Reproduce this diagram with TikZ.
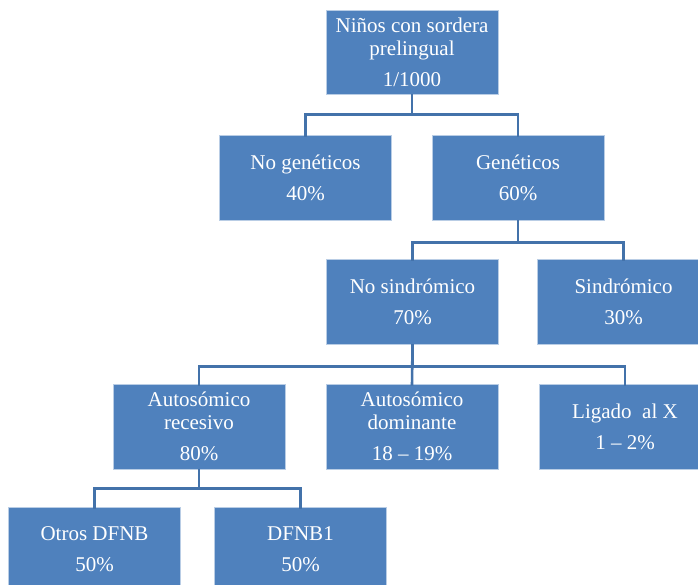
\documentclass[tikz,border=0pt]{standalone}
\usepackage{fontspec}
\setmainfont{Liberation Serif}
\definecolor{boxblue}{HTML}{4F81BD}
\definecolor{boxedge}{HTML}{B9CDE5}
\definecolor{linkblue}{HTML}{4372AA}
\begin{document}
\begin{tikzpicture}[x=1pt,y=-1pt,
  box/.style={rectangle, fill=boxblue, draw=boxedge, line width=0.8pt,
    minimum width=172pt, minimum height=85pt, inner sep=0pt, align=center,
    text=white, font=\fontsize{21}{23}\selectfont},
  conn/.style={draw=linkblue, line width=2.6pt}]
\useasboundingbox (0,0) rectangle (698,585);
\node[box, minimum height=84pt] (top) at (412,52) {Niños con sordera\\prelingual\\[8pt]1/1000};
\node[box] (nog) at (305.5,177.5) {No genéticos\\[8pt]40\%};
\node[box] (gen) at (518,177.5) {Genéticos\\[8pt]60\%};
\node[box] (nos) at (412.5,301.5) {No sindrómico\\[8pt]70\%};
\node[box] (sin) at (623.5,301.5) {Sindrómico\\[8pt]30\%};
\node[box] (rec) at (199,426.5) {Autosómico\\recesivo\\[8pt]80\%};
\node[box] (dom) at (412,426.5) {Autosómico\\dominante\\[8pt]18 – 19\%};
\node[box] (lig) at (625,426.5) {Ligado\ \ al X\\[8pt]1 – 2\%};
\node[box] (otr) at (94.5,549.5) {Otros DFNB\\[8pt]50\%};
\node[box] (dfn) at (300.5,549.5) {DFNB1\\[8pt]50\%};
\draw[conn] (top.south) -- ++(0,20) -| ([yshift=-2pt]nog.north);
\draw[conn] (top.south) -- ++(0,20) -| ([yshift=-2pt]gen.north);
\draw[conn] (gen.south) -- ++(0,22) -| ([yshift=-2pt]nos.north);
\draw[conn] (gen.south) -- ++(0,22) -| ([yshift=-2pt]sin.north);
\draw[conn] (nos.south) -- ++(0,22) -| ([yshift=-2pt]rec.north);
\draw[conn] (nos.south) -- ([yshift=-2pt]dom.north);
\draw[conn] (nos.south) -- ++(0,22) -| ([yshift=-2pt]lig.north);
\draw[conn] (rec.south) -- ++(0,19) -| ([yshift=-2pt]otr.north);
\draw[conn] (rec.south) -- ++(0,19) -| ([yshift=-2pt]dfn.north);
\end{tikzpicture}
\end{document}
